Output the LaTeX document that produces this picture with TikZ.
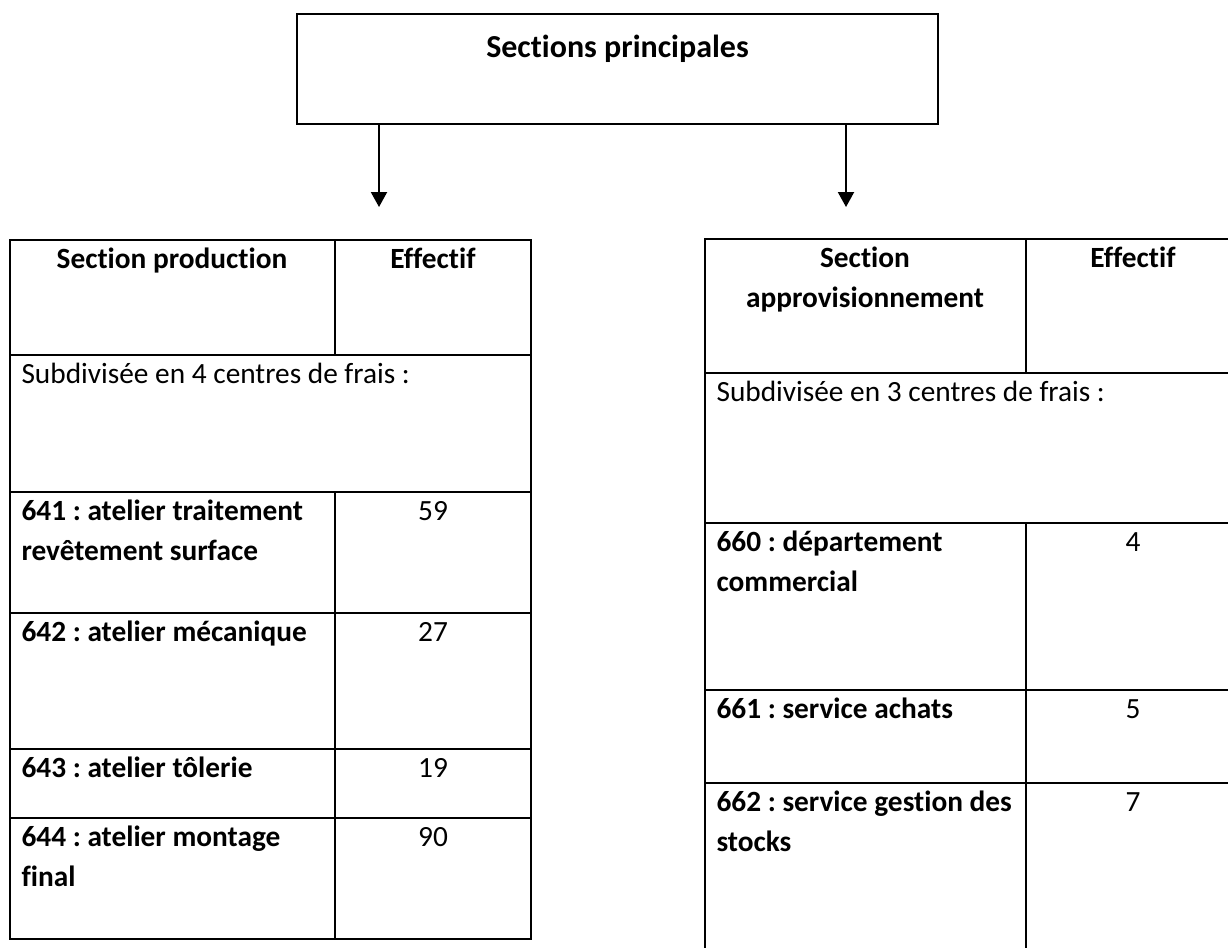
\documentclass[tikz,border=0pt]{standalone}
\usepackage{fontspec}
\setmainfont{Carlito}[Ligatures={NoCommon}]
\frenchspacing
\usetikzlibrary{positioning,arrows.meta}
\newcommand{\lignes}[2][l]{\begin{tabular}[t]{@{}#1@{}}#2\end{tabular}}
\tikzset{
  grille/.style={line width=0.7pt},
  fleche/.style={line width=0.7pt,-{Triangle[length=5.6pt,width=6pt]}},
  boite/.style={draw,line width=0.7pt,minimum width=240.4pt,minimum height=41.25pt,inner sep=0pt},
  titre/.style={font=\fontsize{12}{15}\selectfont\bfseries,anchor=base,inner sep=0pt},
  entete/.style={font=\fontsize{11}{15}\selectfont\bfseries,anchor=base,inner sep=0pt},
  centre/.style={font=\fontsize{11}{15}\selectfont\bfseries,anchor=base west,inner sep=0pt},
  texte/.style={font=\fontsize{11}{15}\selectfont,anchor=base west,inner sep=0pt},
  nombre/.style={font=\fontsize{11}{15}\selectfont,anchor=base,inner sep=0pt}
}
\begin{document}
\begin{tikzpicture}[x=0.375pt,y=-0.375pt]
  \useasboundingbox (0,0) rectangle (1228,947);
  \clip (0,0) rectangle (1228,947);
  \node[boite] (principal) at (617.5,69) {};
  \node[titre] (nomprincipal) at (617.5,57) {Sections principales};
  \coordinate (bout1) at (379,207);
  \coordinate (bout2) at (846,207);
  \draw[fleche] (bout1 |- principal.south) -- (bout1);
  \draw[fleche] (bout2 |- principal.south) -- (bout2);
  % section production
  \draw[grille] (10,240) rectangle (531,939);
  \foreach \y in {355,492,613,749,818}
    \draw[grille] (10,\y) -- (531,\y);
  \draw[grille] (335,240) -- (335,355) (335,492) -- (335,939);
  \node[entete] (prodsec) at (172,268) {Section production};
  \node[entete] (prodeff) at (433,268) {Effectif};
  \node[texte] (prodsub) at (21,383) {Subdivisée en 4 centres de frais :};
  \node[centre] (c641) at (21,520) {\lignes{641 : atelier traitement\\revêtement surface}};
  \node[nombre] (n641) at (433,520) {59};
  \node[centre] (c642) at (21,641) {642 : atelier mécanique};
  \node[nombre] (n642) at (433,641) {27};
  \node[centre] (c643) at (21,777) {643 : atelier tôlerie};
  \node[nombre] (n643) at (433,777) {19};
  \node[centre] (c644) at (21,846) {\lignes{644 : atelier montage\\final}};
  \node[nombre] (n644) at (433,846) {90};
  % section approvisionnement
  \draw[grille] (705,239) rectangle (1240,990);
  \foreach \y in {373,523,690,783}
    \draw[grille] (705,\y) -- (1240,\y);
  \draw[grille] (1026,239) -- (1026,373) (1026,523) -- (1026,990);
  \node[entete] (apprsec) at (865,267) {\lignes[c]{Section\\approvisionnement}};
  \node[entete] (appreff) at (1133,267) {Effectif};
  \node[texte] (apprsub) at (716,401) {Subdivisée en 3 centres de frais :};
  \node[centre] (c660) at (716,551) {\lignes{660 : département\\commercial}};
  \node[nombre] (n660) at (1133,551) {4};
  \node[centre] (c661) at (716,718) {661 : service achats};
  \node[nombre] (n661) at (1133,718) {5};
  \node[centre] (c662) at (716,811) {\lignes{662 : service gestion des\\stocks}};
  \node[nombre] (n662) at (1133,811) {7};
\end{tikzpicture}
\end{document}
